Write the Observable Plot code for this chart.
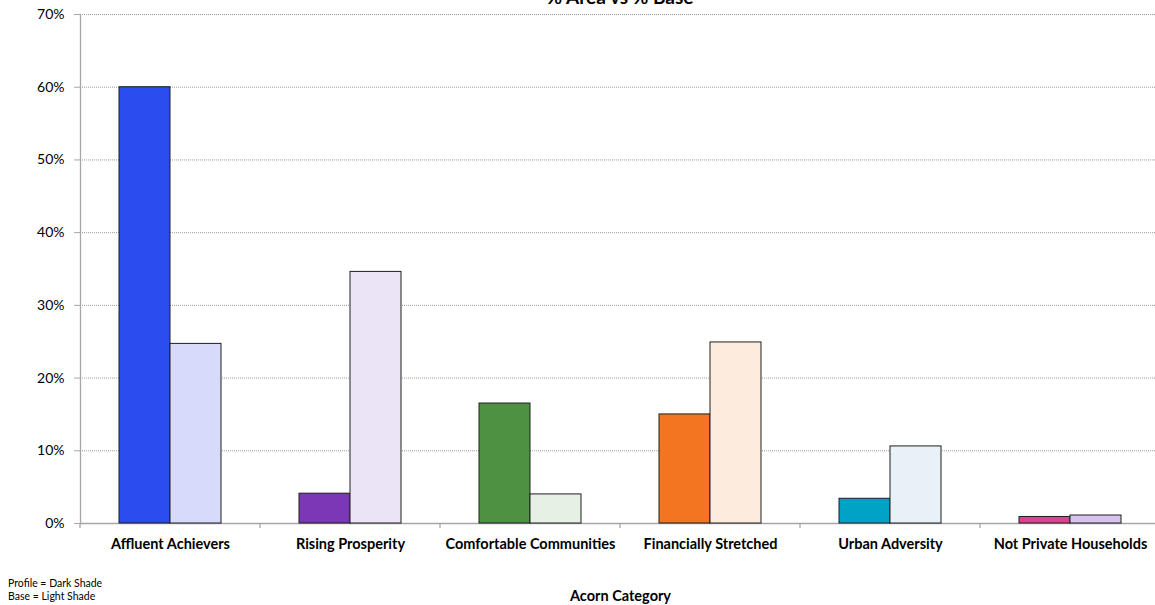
<!DOCTYPE html>
<html>
<head>
<meta charset="utf-8">
<script src="https://cdn.jsdelivr.net/npm/d3@7"></script>
<script src="https://cdn.jsdelivr.net/npm/@observablehq/plot@0.6"></script>
<style>
  body { margin: 0; background: #fff; }
  #chart svg { display: block; }
</style>
</head>
<body>
<div id="chart"></div>
<script>
// Acorn category profile vs base shares (percent)
const categories = [
  "Affluent Achievers",
  "Rising Prosperity",
  "Comfortable Communities",
  "Financially Stretched",
  "Urban Adversity",
  "Not Private Households"
];
const profileValues = [60.0, 4.1, 16.5, 15.0, 3.4, 0.9];
const baseValues = [24.7, 34.6, 4.0, 24.9, 10.6, 1.1];
const profileColors = ["#2b4cee", "#7b37b6", "#4e9142", "#f47521", "#00a2c5", "#e0408f"];
const baseColors = ["#d7dbfb", "#ebe4f6", "#e6f0e4", "#fdecdd", "#e8f1f8", "#d9c2ec"];
const seriesNames = ["Profile", "Base"];
const yTicks = [0, 10, 20, 30, 40, 50, 60, 70];
const title = "% Area vs % Base";
const xLabel = "Acorn Category";
const notes = ["Profile = Dark Shade", "Base = Light Shade"];

const rows = categories.flatMap((category, i) => [
  {category, series: "Profile", value: profileValues[i], color: profileColors[i]},
  {category, series: "Base", value: baseValues[i], color: baseColors[i]}
]);

const font = "Lato, 'Open Sans', sans-serif";
const axisGrey = "#a6a6a6";

const chart = Plot.plot({
  width: 1155,
  height: 605,
  marginTop: 14,
  marginBottom: 82,
  marginLeft: 79,
  marginRight: -6,
  style: {fontFamily: font, fontSize: "14px", color: "#000", background: "#fff", overflow: "hidden"},
  fx: {domain: categories, padding: 0},
  x: {domain: seriesNames, paddingInner: 0, paddingOuter: 0.75, axis: null},
  y: {domain: [0, 70], axis: null},
  color: {type: "identity"},
  marks: [
    Plot.gridY(yTicks, {stroke: "#9a9a9a", strokeOpacity: 1, strokeDasharray: "1,1"}),
    Plot.ruleY([0], {stroke: axisGrey, strokeWidth: 1.3}),
    Plot.frame({anchor: "left", stroke: axisGrey, strokeWidth: 1.3, facetAnchor: "left"}),
    Plot.barY(rows, {fx: "category", x: "series", y: "value", fill: "color", stroke: "#1e1e1e", strokeWidth: 1}),
    Plot.axisY(yTicks, {label: null, tickFormat: d => d + "%", tickSize: 6, tickPadding: 10, stroke: axisGrey, fontSize: 14}),
    Plot.axisFx({anchor: "bottom", tickSize: 0, tickPadding: 15, fontWeight: "bold", fontSize: 14.5, label: xLabel, labelAnchor: "center", labelOffset: 77})
  ]
});

document.getElementById("chart").appendChild(chart);

// Category boundary ticks, title and shade notes
const svg = d3.select(chart);
const fx = chart.scale("fx");
const y = chart.scale("y");
const y0 = y.apply(0);
const bounds = categories.map(c => fx.apply(c));
svg.append("g")
  .attr("stroke", axisGrey)
  .attr("stroke-width", 1.3)
  .selectAll("line")
  .data(bounds)
  .join("line")
  .attr("x1", d => d).attr("x2", d => d)
  .attr("y1", y0).attr("y2", y0 + 5);

const [r0, r1] = fx.range;
svg.append("text")
  .attr("x", (r0 + r1) / 2)
  .attr("y", 4)
  .attr("text-anchor", "middle")
  .attr("font-weight", "bold")
  .attr("font-size", 19)
  .attr("fill", "#000")
  .text(title);

svg.append("g")
  .attr("font-size", 10.5)
  .attr("text-anchor", "start")
  .attr("fill", "#000")
  .selectAll("text")
  .data(notes)
  .join("text")
  .attr("x", 8)
  .attr("y", (d, i) => 587 + i * 13)
  .text(d => d);
</script>
</body>
</html>
